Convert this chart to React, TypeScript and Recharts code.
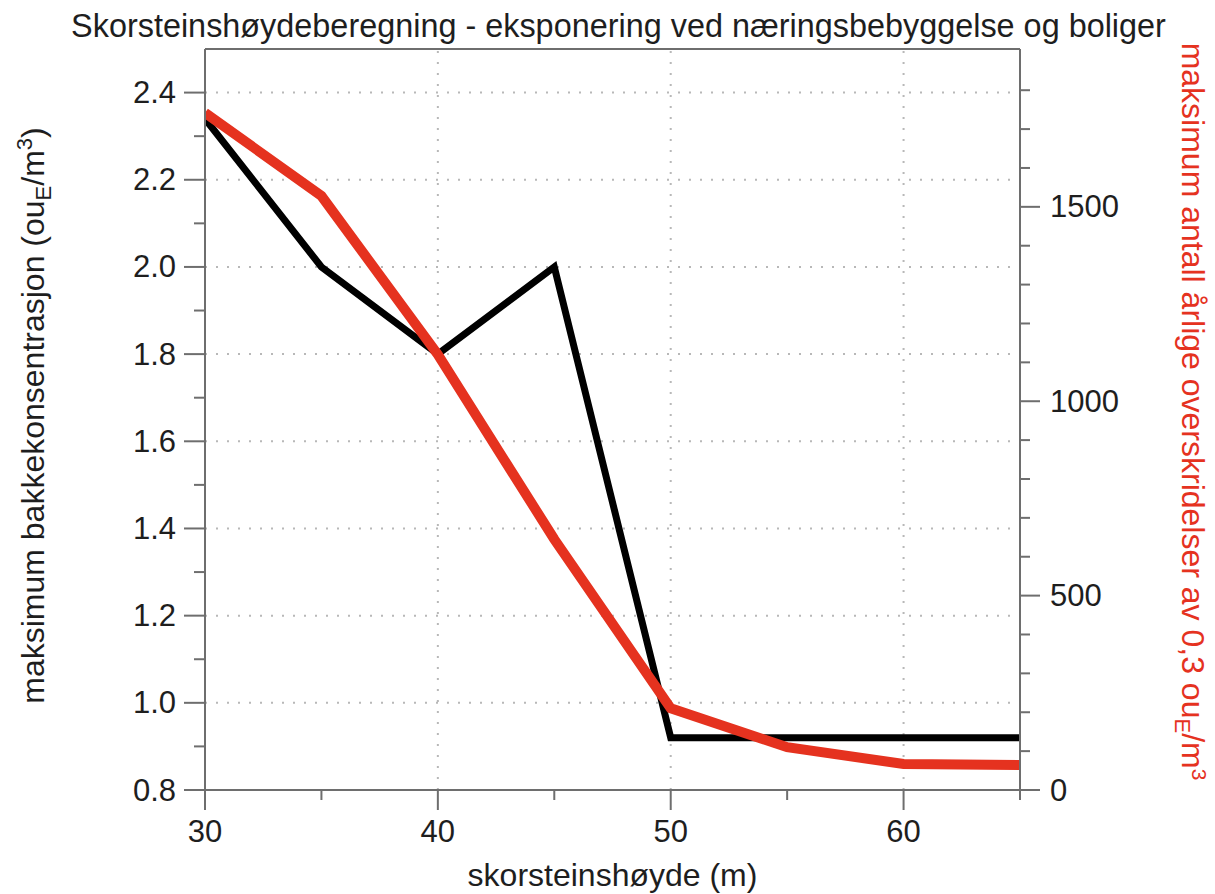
import React from 'react';
import { LineChart, Line, XAxis, YAxis, ReferenceLine } from 'recharts';

// ---- data ----
const heights = [30, 35, 40, 45, 50, 55, 60, 65];
const concentration = [2.34, 2.0, 1.8, 2.0, 0.92, 0.92, 0.92, 0.92];
const exceedances = [1742, 1528, 1120, 645, 210, 110, 67, 64];

const xTicks = [30, 35, 40, 45, 50, 55, 60, 65];
const xLabelTicks = [30, 40, 50, 60];
const leftTicks = [0.8, 0.9, 1.0, 1.1, 1.2, 1.3, 1.4, 1.5, 1.6, 1.7, 1.8, 1.9, 2.0, 2.1, 2.2, 2.3, 2.4];
const leftLabelTicks = [0.8, 1.0, 1.2, 1.4, 1.6, 1.8, 2.0, 2.2, 2.4];
const rightTicks = [0, 100, 200, 300, 400, 500, 600, 700, 800, 900, 1000, 1100, 1200, 1300, 1400, 1500, 1600, 1700, 1800];
const rightLabelTicks = [0, 500, 1000, 1500];
const xGrid = [40, 50, 60];
const yGrid = [1.0, 1.2, 1.4, 1.6, 1.8, 2.0, 2.2, 2.4];
const xDomain = [30, 65];
const leftDomain = [0.8, 2.5];
const rightDomain = [0, 1906];

const title = 'Skorsteinshøydeberegning - eksponering ved næringsbebyggelse og boliger';
const xTitle = 'skorsteinshøyde (m)';

const data = heights.map((h, i) => ({ h, conc: concentration[i], exc: exceedances[i] }));

// ---- styles ----
const FONT = '"Liberation Sans", Arial, Helvetica, sans-serif';
const AXIS = '#6e6e6e';
const TEXT = '#1e1e1e';
const RED = '#e5321f';
const GRID = '#b8b8b8';
const TICK_FS = 31;
const LABEL_FS = 32;
const TITLE_FS = 32.4;

const isIn = (arr: number[], v: number) => arr.some((a) => Math.abs(a - v) < 1e-6);

const LeftTick = (props: any) => {
  const { x, y, payload } = props;
  const v = payload.value;
  const major = isIn(leftLabelTicks, v);
  return (
    <g>
      <line x1={x} x2={x - (major ? 21 : 11)} y1={y} y2={y} stroke={AXIS} strokeWidth={2} />
      {major && (
        <text x={x - 29} y={y} textAnchor="end" dominantBaseline="central" fontSize={TICK_FS} fontFamily={FONT} fill={TEXT}>
          {v.toFixed(1)}
        </text>
      )}
    </g>
  );
};

const RightTick = (props: any) => {
  const { x, y, payload } = props;
  const v = payload.value;
  const major = isIn(rightLabelTicks, v);
  return (
    <g>
      <line x1={x} x2={x + (major ? 20 : 10)} y1={y} y2={y} stroke={AXIS} strokeWidth={2} />
      {major && (
        <text x={x + 30} y={y} textAnchor="start" dominantBaseline="central" fontSize={TICK_FS} fontFamily={FONT} fill={TEXT}>
          {String(v)}
        </text>
      )}
    </g>
  );
};

const BottomTick = (props: any) => {
  const { x, y, payload } = props;
  const v = payload.value;
  const major = isIn(xLabelTicks, v);
  return (
    <g>
      <line x1={x} x2={x} y1={y} y2={y + (major ? 20 : 10)} stroke={AXIS} strokeWidth={2} />
      {major && (
        <text x={x} y={y + 52} textAnchor="middle" fontSize={TICK_FS} fontFamily={FONT} fill={TEXT}>
          {String(v)}
        </text>
      )}
    </g>
  );
};

const LeftLabel = (props: any) => {
  const vb = props.viewBox || { x: 0, y: 49, width: 205, height: 741 };
  const x = vb.x + 44;
  const y = vb.y + vb.height / 2 - 4;
  return (
    <text x={x} y={y} transform={`rotate(-90, ${x}, ${y})`} textAnchor="middle" fontSize={LABEL_FS} fontFamily={FONT} fill={TEXT}>
      <tspan>maksimum bakkekonsentrasjon (ou</tspan>
      <tspan fontSize={22} dy={7}>E</tspan>
      <tspan dy={-7}>/m</tspan>
      <tspan fontSize={22} dy={-12}>3</tspan>
      <tspan dy={12}>)</tspan>
    </text>
  );
};

const RightLabel = (props: any) => {
  const vb = props.viewBox || { x: 1020, y: 49, width: 195, height: 741 };
  const x = vb.x + 162;
  const y = vb.y + vb.height / 2 - 8;
  return (
    <text x={x} y={y} transform={`rotate(90, ${x}, ${y})`} textAnchor="middle" fontSize={LABEL_FS} fontFamily={FONT} fill={RED}>
      <tspan>maksimum antall årlige overskridelser av 0,3 ou</tspan>
      <tspan fontSize={22} dy={7}>E</tspan>
      <tspan dy={-7}>/m</tspan>
      <tspan fontSize={21} dy={-10}>3</tspan>
    </text>
  );
};

const BottomLabel = (props: any) => {
  const vb = props.viewBox || { x: 205, y: 790, width: 815, height: 104 };
  return (
    <text x={vb.x + vb.width / 2} y={vb.y + 96} textAnchor="middle" fontSize={LABEL_FS} fontFamily={FONT} fill={TEXT}>
      {xTitle}
    </text>
  );
};

const TitleLabel = (props: any) => {
  const vb = props.viewBox || { x: 205, y: 49, width: 815, height: 0 };
  return (
    <text x={vb.x + vb.width / 2 + 6} y={vb.y - 12} textAnchor="middle" fontSize={TITLE_FS} fontFamily={FONT} fill={TEXT}>
      {title}
    </text>
  );
};

export default function App() {
  return (
    <div style={{ position: 'absolute', left: 0, top: 0, width: 1215, height: 894, background: '#fff' }}>
      <LineChart width={1215} height={894} data={data} margin={{ top: 49, right: 0, bottom: 0, left: 0 }}>
        <XAxis
          dataKey="h"
          type="number"
          domain={xDomain}
          ticks={xTicks}
          interval={0}
          height={104}
          tickSize={0}
          tickMargin={0}
          tickLine={false}
          axisLine={{ stroke: AXIS, strokeWidth: 2 }}
          tick={BottomTick}
          label={BottomLabel}
          allowDataOverflow
        />
        <YAxis
          yAxisId="left"
          orientation="left"
          type="number"
          domain={leftDomain}
          ticks={leftTicks}
          interval={0}
          width={205}
          tickSize={0}
          tickMargin={0}
          tickLine={false}
          axisLine={{ stroke: AXIS, strokeWidth: 2 }}
          tick={LeftTick}
          label={LeftLabel}
          allowDataOverflow
        />
        <YAxis
          yAxisId="right"
          orientation="right"
          type="number"
          domain={rightDomain}
          ticks={rightTicks}
          interval={0}
          width={195}
          tickSize={0}
          tickMargin={0}
          tickLine={false}
          axisLine={{ stroke: AXIS, strokeWidth: 2 }}
          tick={RightTick}
          label={RightLabel}
          allowDataOverflow
        />
        {yGrid.map((v) => (
          <ReferenceLine key={`gy${v}`} yAxisId="left" y={v} stroke={GRID} strokeWidth={2} strokeDasharray="2 9" />
        ))}
        {xGrid.map((v) => (
          <ReferenceLine key={`gx${v}`} yAxisId="left" x={v} stroke={GRID} strokeWidth={2} strokeDasharray="2 9" />
        ))}
        <ReferenceLine yAxisId="left" y={leftDomain[1]} stroke={AXIS} strokeWidth={2} label={TitleLabel} />
        <Line
          yAxisId="left"
          dataKey="conc"
          stroke="#000"
          strokeWidth={7}
          dot={false}
          activeDot={false}
          strokeLinejoin="miter"
          isAnimationActive={false}
        />
        <Line
          yAxisId="right"
          dataKey="exc"
          stroke={RED}
          strokeWidth={10}
          dot={false}
          activeDot={false}
          isAnimationActive={false}
        />
      </LineChart>
    </div>
  );
}
